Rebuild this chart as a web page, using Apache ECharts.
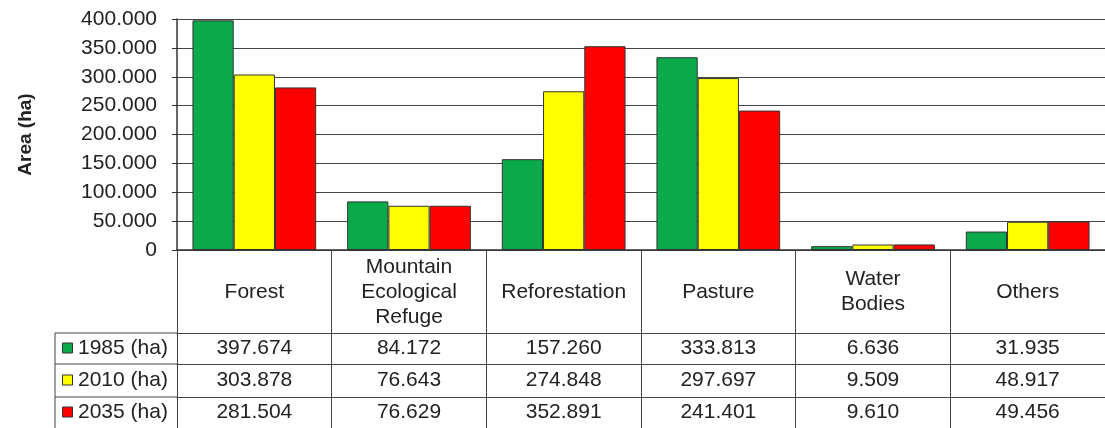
<!DOCTYPE html>
<html>
<head>
<meta charset="utf-8">
<script src="https://cdn.jsdelivr.net/npm/echarts@6/dist/echarts.min.js"></script>
<style>
html,body{margin:0;padding:0;background:#fff;}
#c{width:1105px;height:428px;}
</style>
</head>
<body>
<div id="c"></div>
<script>
var categories = ['Forest', 'Mountain\nEcological\nRefuge', 'Reforestation', 'Pasture', 'Water\nBodies', 'Others'];
var seriesNames = ['1985 (ha)', '2010 (ha)', '2035 (ha)'];
var values1985 = [397674, 84172, 157260, 333813, 6636, 31935];
var values2010 = [303878, 76643, 274848, 297697, 9509, 48917];
var values2035 = [281504, 76629, 352891, 241401, 9610, 49456];
var colors = ['#0AAA4A', '#FFFF00', '#FF0000'];

var FONT = 'Liberation Sans, Arial, sans-serif';
var FS = 21;
var GL = 177, GT = 19, GW = 932, GH = 231;
var rowLines = [83, 114, 147]; // offsets below x-axis line for table rows
var rowMargins = [15, 16, 15];
var legendLeft = 55;

function fmt(v) {
  var s = Math.round(v).toString();
  return s.replace(/\B(?=(\d{3})+(?!\d))/g, '.');
}

var allValues = [values1985, values2010, values2035];
var chart = echarts.init(document.getElementById('c'));

var xAxes = [{
  type: 'category', data: categories, gridIndex: 0, position: 'bottom',
  axisLine: { show: true, lineStyle: { color: '#333', width: 1.5 } },
  axisTick: { show: true, length: 180, interval: 0, lineStyle: { color: '#444', width: 1 } },
  axisLabel: { interval: 0, margin: 42, verticalAlign: 'middle', lineHeight: 25,
    color: '#222', fontFamily: FONT, fontSize: FS }
}];
for (var r = 0; r < 3; r++) {
  (function (vals, off, m) {
    xAxes.push({
      type: 'category', data: categories, gridIndex: 0, position: 'bottom', offset: off,
      axisLine: { show: true, lineStyle: { color: '#444', width: 1 } },
      axisTick: { show: false },
      axisLabel: { interval: 0, margin: m, verticalAlign: 'middle', color: '#222',
        fontFamily: FONT, fontSize: FS,
        formatter: function (v, i) { return fmt(vals[i]); } }
    });
  })(allValues[r], rowLines[r], rowMargins[r]);
}

var series = [];
for (var s = 0; s < 3; s++) {
  series.push({
    name: seriesNames[s], type: 'bar', data: allValues[s],
    barGap: '0%', barCategoryGap: '20%',
    itemStyle: { color: colors[s], borderColor: '#333', borderWidth: 1 }
  });
}

var graphics = [];
var axisY = GT + GH;
for (var k = 0; k < rowLines.length; k++) {
  graphics.push({ type: 'line', shape: { x1: legendLeft, y1: axisY + rowLines[k], x2: GL, y2: axisY + rowLines[k] },
    style: { stroke: '#444', lineWidth: 1 }, z: 10 });
  var cy = axisY + rowLines[k] + rowMargins[k];
  graphics.push({ type: 'rect', shape: { x: 62.5, y: cy - 5, width: 10, height: 10 },
    style: { fill: colors[k], stroke: '#333', lineWidth: 1 }, z: 10 });
  graphics.push({ type: 'text', x: 78, y: cy,
    style: { text: seriesNames[k], fill: '#222', font: FS + 'px ' + FONT, textVerticalAlign: 'middle', verticalAlign: 'middle' }, z: 10 });
}
graphics.push({ type: 'line', shape: { x1: legendLeft, y1: axisY + rowLines[0], x2: legendLeft, y2: 430 },
  style: { stroke: '#444', lineWidth: 1 }, z: 10 });

chart.setOption({
  animation: false,
  color: colors,
  grid: { left: GL, top: GT, width: GW, height: GH, containLabel: false },
  xAxis: xAxes,
  yAxis: {
    type: 'value', min: 0, max: 400000, interval: 50000,
    name: 'Area (ha)', nameLocation: 'middle', nameGap: 142, nameRotate: 90,
    nameTextStyle: { fontFamily: FONT, fontSize: 19, fontWeight: 'bold', color: '#222' },
    axisLine: { show: true, lineStyle: { color: '#333', width: 1.5 } },
    axisTick: { show: true, inside: false, length: 5, lineStyle: { color: '#333' } },
    axisLabel: { margin: 20, color: '#222', fontFamily: FONT, fontSize: FS,
      formatter: function (v) { return fmt(v); } },
    splitLine: { show: true, lineStyle: { color: '#444', width: 1 } }
  },
  series: series,
  graphic: graphics
});
</script>
</body>
</html>
